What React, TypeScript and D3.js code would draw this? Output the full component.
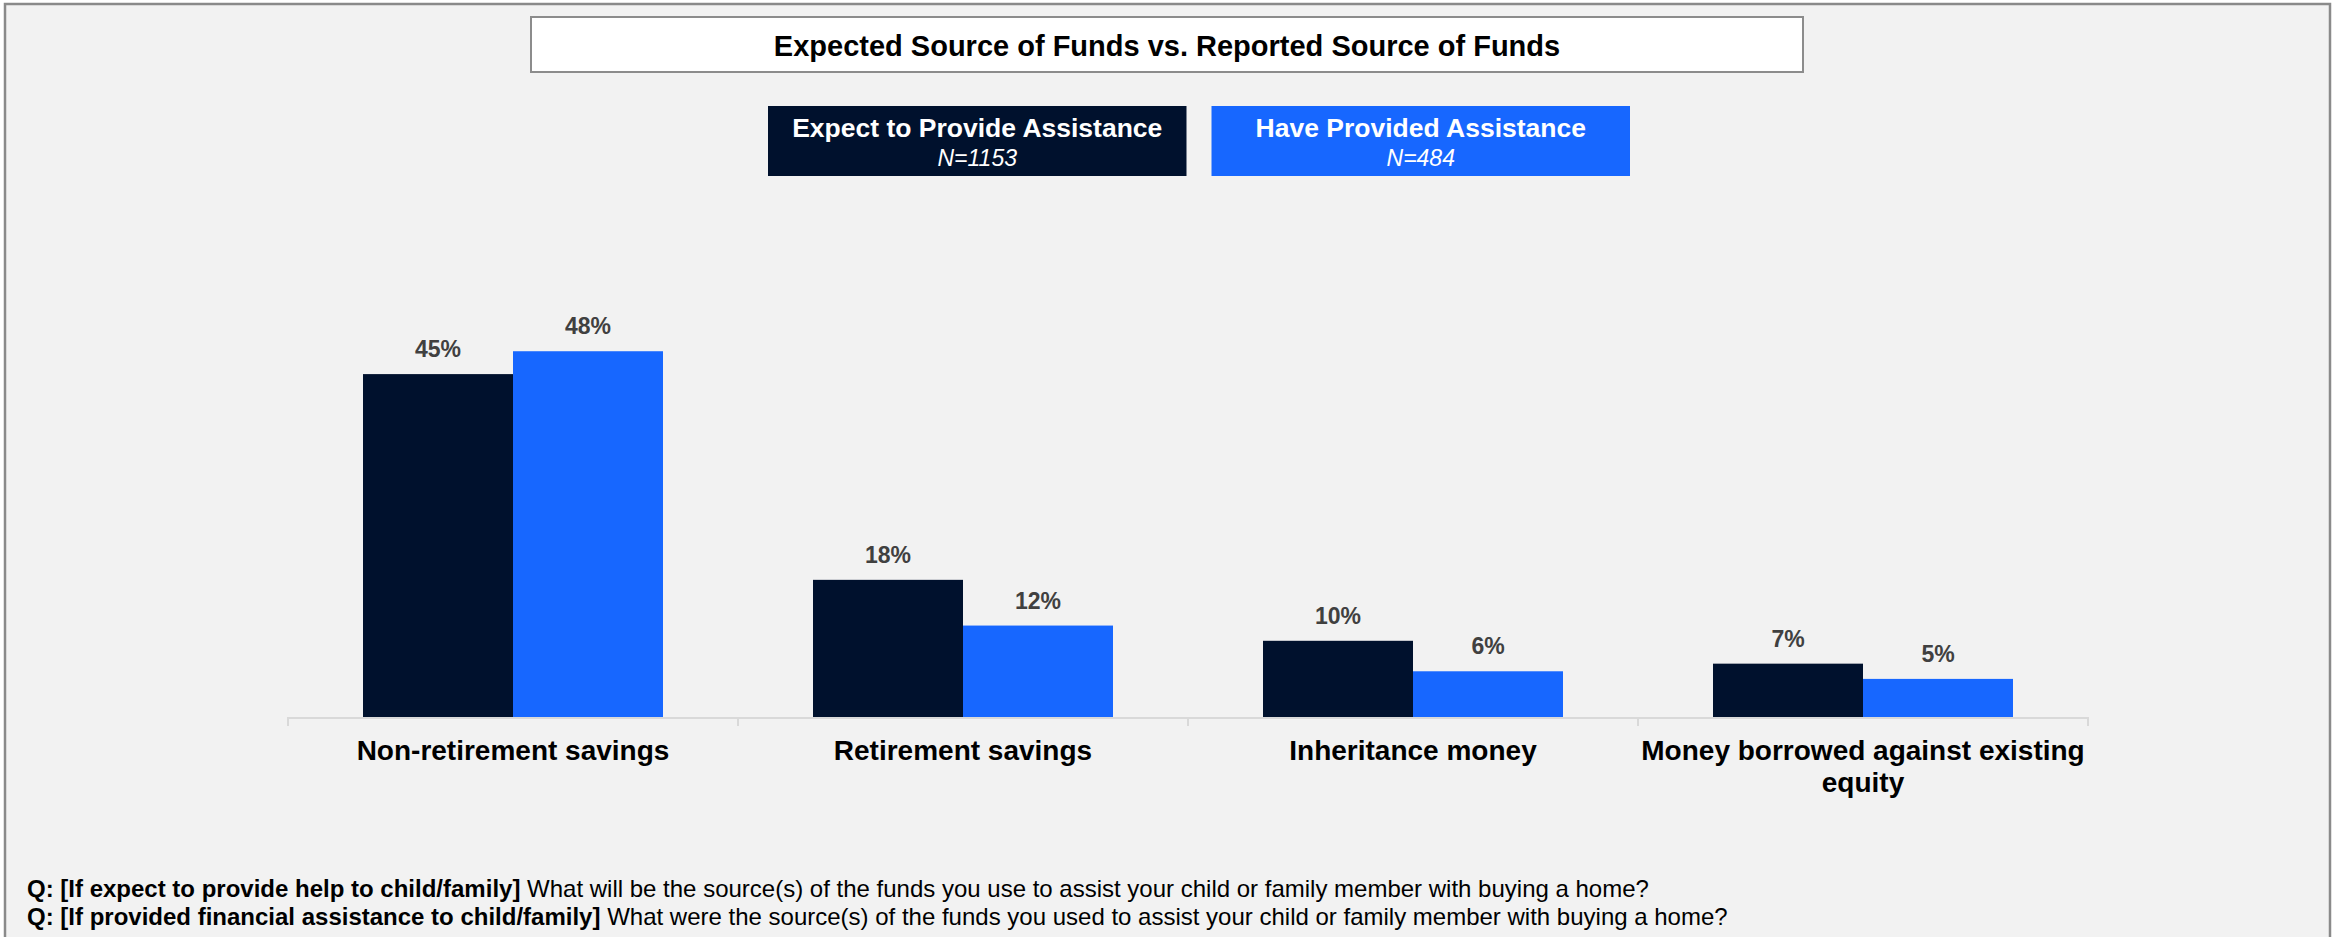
import React, { useEffect, useRef } from "react";
import * as d3 from "d3";

const titleText = "Expected Source of Funds vs. Reported Source of Funds";
const categories = [
  "Non-retirement savings",
  "Retirement savings",
  "Inheritance money",
  "Money borrowed against existing equity",
];
const seriesKeys = ["expect", "provided"];
const seriesNames = ["Expect to Provide Assistance", "Have Provided Assistance"];
const seriesN = ["N=1153", "N=484"];
const seriesColors = ["#00112d", "#1767ff"];
const expectValues = [45, 18, 10, 7];
const providedValues = [48, 12, 6, 5];
const footBold = [
  "Q: [If expect to provide help to child/family]",
  "Q: [If provided financial assistance to child/family]",
];
const footRegular = [
  " What will be the source(s) of the funds you use to assist your child or family member with buying a home?",
  " What were the source(s) of the funds you used to assist your child or family member with buying a home?",
];

const W = 2333;
const H = 937;
const FONT = "'Liberation Sans', Arial, Helvetica, sans-serif";

export default function App() {
  const ref = useRef<SVGSVGElement | null>(null);

  useEffect(() => {
    document.body.style.margin = "0";
    const svg = d3.select(ref.current);
    svg.selectAll("*").remove();

    // background and frame
    svg.append("rect").attr("x", 0).attr("y", 0).attr("width", W).attr("height", H).attr("fill", "#ffffff");
    svg.append("rect").attr("x", 5).attr("y", 4).attr("width", 2325).attr("height", H).attr("fill", "#f2f2f2");
    svg
      .append("path")
      .attr("d", `M5,${H} L5,4 L2330,4 L2330,${H}`)
      .attr("fill", "none")
      .attr("stroke", "#8a8a8a")
      .attr("stroke-width", 2.5);

    // title box
    svg
      .append("rect")
      .attr("x", 531)
      .attr("y", 17)
      .attr("width", 1272)
      .attr("height", 55)
      .attr("fill", "#ffffff")
      .attr("stroke", "#8c8c8c")
      .attr("stroke-width", 2);
    svg
      .append("text")
      .attr("x", 1167)
      .attr("y", 56)
      .attr("text-anchor", "middle")
      .attr("font-family", FONT)
      .attr("font-weight", "bold")
      .attr("font-size", 29)
      .attr("fill", "#000")
      .text(titleText);

    // legend
    const legX = d3.scaleBand<string>().domain(seriesKeys).range([768, 1630]).paddingInner(0.0564);
    seriesKeys.forEach((k, i) => {
      const x0 = legX(k)!;
      const bw = legX.bandwidth();
      svg.append("rect").attr("x", x0).attr("y", 106).attr("width", bw).attr("height", 70).attr("fill", seriesColors[i]);
      svg
        .append("text")
        .attr("x", x0 + bw / 2)
        .attr("y", 137)
        .attr("text-anchor", "middle")
        .attr("font-family", FONT)
        .attr("font-weight", "bold")
        .attr("font-size", 26.5)
        .attr("fill", "#fff")
        .text(seriesNames[i]);
      svg
        .append("text")
        .attr("x", x0 + bw / 2)
        .attr("y", 166)
        .attr("text-anchor", "middle")
        .attr("font-family", FONT)
        .attr("font-style", "italic")
        .attr("font-size", 23)
        .attr("fill", "#fff")
        .text(seriesN[i]);
    });

    // scales
    const x = d3.scaleBand<string>().domain(categories).range([288, 2088]).padding(0);
    const x1 = d3.scaleBand<string>().domain(seriesKeys).range([0, x.bandwidth()]).paddingInner(0).paddingOuter(0.5);
    const y = d3.scaleLinear().domain([0, 50]).range([717, 336]);

    // bars
    const data = categories.map((c, i) => ({ c, vals: [expectValues[i], providedValues[i]] }));
    const g = svg.append("g");
    data.forEach((d) => {
      d.vals.forEach((v, si) => {
        const bx = x(d.c)! + x1(seriesKeys[si])!;
        g.append("rect")
          .attr("x", bx)
          .attr("y", y(v))
          .attr("width", x1.bandwidth())
          .attr("height", y(0) - y(v))
          .attr("fill", seriesColors[si]);
        g.append("text")
          .attr("x", bx + x1.bandwidth() / 2)
          .attr("y", y(v) - 17)
          .attr("text-anchor", "middle")
          .attr("font-family", FONT)
          .attr("font-weight", "bold")
          .attr("font-size", 23)
          .attr("fill", "#404040")
          .text(`${v}%`);
      });
    });

    // axis
    svg
      .append("line")
      .attr("x1", x.range()[0])
      .attr("x2", x.range()[1])
      .attr("y1", y(0) + 1)
      .attr("y2", y(0) + 1)
      .attr("stroke", "#d9d9d9")
      .attr("stroke-width", 2);
    const tickXs = categories.map((c) => x(c)!).concat([x.range()[1]]);
    tickXs.forEach((tx) => {
      svg
        .append("line")
        .attr("x1", tx)
        .attr("x2", tx)
        .attr("y1", y(0))
        .attr("y2", y(0) + 9)
        .attr("stroke", "#d9d9d9")
        .attr("stroke-width", 2);
    });

    // category labels with wrapping
    categories.forEach((c) => {
      const cx = x(c)! + x.bandwidth() / 2;
      const t = svg
        .append("text")
        .attr("x", cx)
        .attr("y", 760)
        .attr("text-anchor", "middle")
        .attr("font-family", FONT)
        .attr("font-weight", "bold")
        .attr("font-size", 28)
        .attr("fill", "#000");
      const words = c.split(" ");
      let line: string[] = [];
      let lineNo = 0;
      let tspan = t.append("tspan").attr("x", cx).attr("y", 760);
      words.forEach((w) => {
        line.push(w);
        tspan.text(line.join(" "));
        const node = tspan.node() as SVGTSpanElement;
        if (node.getComputedTextLength() > x.bandwidth() && line.length > 1) {
          line.pop();
          tspan.text(line.join(" "));
          line = [w];
          lineNo++;
          tspan = t
            .append("tspan")
            .attr("x", cx)
            .attr("y", 760 + lineNo * 32)
            .text(w);
        }
      });
    });

    // footnotes
    footBold.forEach((b, i) => {
      const t = svg
        .append("text")
        .attr("x", 27)
        .attr("y", 897 + i * 28)
        .attr("font-family", FONT)
        .attr("font-size", 24)
        .attr("fill", "#000");
      t.append("tspan").attr("font-weight", "bold").text(b);
      t.append("tspan").text(footRegular[i]);
    });
  }, []);

  return (
    <div style={{ position: "absolute", left: 0, top: 0 }}>
      <svg ref={ref} width={W} height={H} style={{ display: "block" }} />
    </div>
  );
}
